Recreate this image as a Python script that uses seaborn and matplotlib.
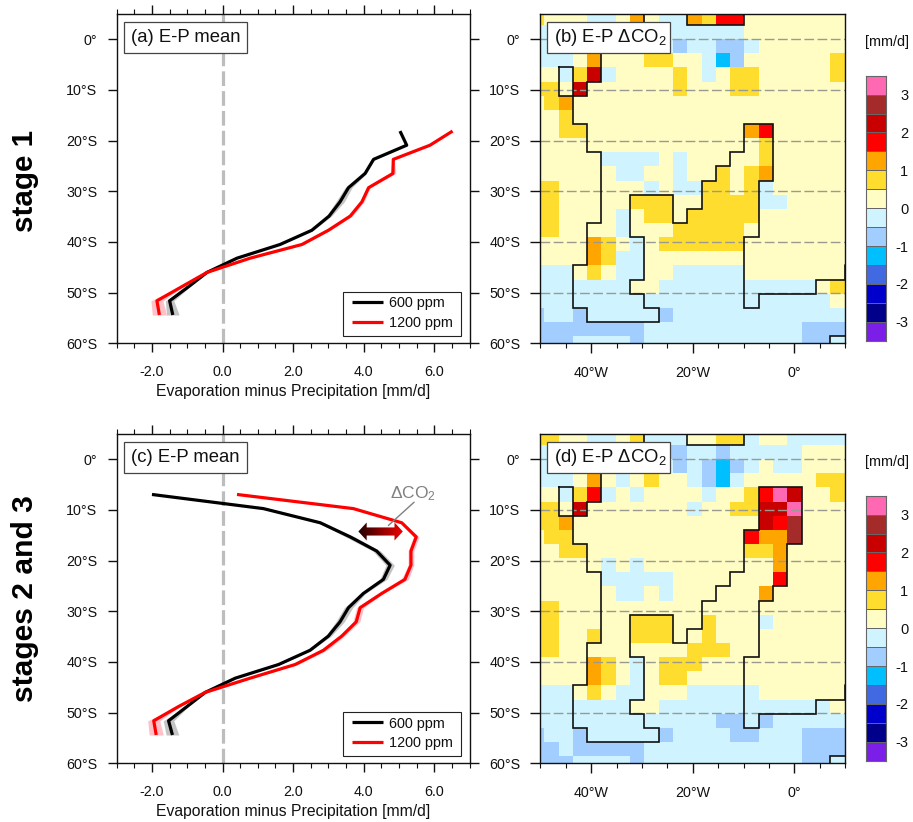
import numpy as np
import matplotlib
matplotlib.use('Agg')
import matplotlib.pyplot as plt
import seaborn as sns
from matplotlib.colors import ListedColormap, BoundaryNorm, LinearSegmentedColormap
from matplotlib.patches import Polygon, Rectangle

# ---- line panels ----
lat_a = [-18.14, -20.93, -23.72, -26.5, -29.3, -32.1, -34.9, -37.7, -40.5, -43.2, -46.0, -48.8, -51.6, -54.4]
black_a = [5.03, 5.22, 4.28, 4.04, 3.57, 3.33, 3.02, 2.53, 1.63, 0.41, -0.44, -0.96, -1.50, -1.41]
red_a = [6.52, 5.88, 4.84, 4.83, 4.14, 3.95, 3.62, 3.00, 2.25, 0.78, -0.44, -1.15, -1.86, -1.79]
spread_black_a = [0.0, 0.01, 0.03, 0.04, 0.10, 0.12, 0.07, 0.04, 0.03, 0.03, 0.02, 0.04, 0.12, 0.18]
spread_red_a = [0.0, 0.01, 0.03, 0.08, 0.05, 0.06, 0.06, 0.05, 0.06, 0.03, 0.02, 0.04, 0.17, 0.20]

lat_c = [-6.98, -9.77, -12.56, -15.35, -18.14, -20.93, -23.72, -26.5, -29.3, -32.1, -34.9, -37.7, -40.5, -43.2, -46.0, -48.8, -51.6, -54.4]
black_c = [-2.0, 1.16, 2.77, 3.62, 4.37, 4.75, 4.56, 3.99, 3.57, 3.33, 3.0, 2.48, 1.59, 0.36, -0.49, -1.01, -1.53, -1.42]
red_c = [0.41, 3.71, 5.08, 5.49, 5.34, 5.34, 5.17, 4.51, 3.90, 3.79, 3.38, 2.86, 2.06, 0.78, -0.49, -1.25, -1.95, -1.88]
spread_black_c = [0.0, 0.01, 0.06, 0.13, 0.11, 0.12, 0.10, 0.06, 0.12, 0.12, 0.08, 0.04, 0.04, 0.03, 0.02, 0.04, 0.15, 0.18]
spread_red_c = [0.0, 0.01, 0.04, 0.08, 0.08, 0.08, 0.10, 0.05, 0.10, 0.10, 0.08, 0.10, 0.08, 0.03, 0.03, 0.05, 0.17, 0.20]

series_names = ['600 ppm', '1200 ppm']
lat_ticks = [0, -10, -20, -30, -40, -50, -60]
lat_labels = ['0°', '10°S', '20°S', '30°S', '40°S', '50°S', '60°S']
ep_ticks = [-2, 0, 2, 4, 6]
ep_labels = ['-2.0', '0.0', '2.0', '4.0', '6.0']

# ---- map panels: one letter per grid cell, see cell_values ----
map_b = [
    'gyyyccyoyccogrryyyyyyyy',
    'cccccccccccccccyyyyyyyy',
    'ccccccccccbccbbcyyyyyyy',
    'cccyoyyyggyycsbyyyyyygg',
    'yycgdcyyyygycyggyyyyygg',
    'ggydyyyyyygyyyggyyyyyyy',
    'ygoyyyyyyyyyyyyyyyyyyyy',
    'yygyyyyyyyyyyyyyyyyyyyy',
    'yyggyyyyyyyyyyyoryyyyyy',
    'yyyyyyyyyyyyyyyygyyyyyy',
    'yyyyyccccycyyyyygyyyyyy',
    'yyyyyyccyycyygygoyyyyyy',
    'ggyyyyyycyccggygcyyyyyy',
    'ggyyyyygggyyggggccyyyyy',
    'ggyyyycyggygggggyyyyyyy',
    'ggyyyycyyygggggyyyyyyyy',
    'yyyyogycyggggggyyyyyyyy',
    'yyyyogccyyyyyyyyyyyyyyy',
    'cccygyccyyccccc' + 'yyyyyyyy',
    'cccccccyy' + 'c' * 11 + 'ygg',
    'c' * 21 + 'yy',
    'bccbcccccb' + 'c' * 13,
    'b' * 8 + 'c' * 11 + 'bbbb',
    'bbbccccbcccccccccccbbcc',
]
map_d = [
    'ggyyccygcccyyggcyyccccc',
    'cccccccccbbccbcccccyyyy',
    'ccccccccccbcbsbcyccyyyy',
    'cccyoycygyycbscyyyyyggg',
    'yycgrcycyyyycyygrpdyygg',
    'ggydyyyyyyycyyggddpyyyy',
    'ggoyyyyyyyyyyyyydrwyyyy',
    'yggyyyyyyyyyyyy' + 'roowyyyy',
    'yyggyyyyyyyyyyyggoyyyyy',
    'yyyyycycyyyyyyyyyoyyyyy',
    'yyyyyccccc' + 'yyyyyyy' + 'ryyyyy',
    'yyyyyyccycyyyyyyoyyyyyy',
    'gg' + 'y' * 21,
    'ggyyyyygggyygyyycyyyyyy',
    'ggyygyygggyyg' + 'y' * 10,
    'gg' + 'y' * 9 + 'ggg' + 'y' * 9,
    'yyyyogycygggyyyyyyyyyyy',
    'yyyyogycyggyyyyyyyyyyyy',
    'cccygyccyyyccccc' + 'yyyyyyy',
    'cccccccyy' + 'c' * 12 + 'yy',
    'c' * 13 + 'bbcb' + 'c' * 6,
    'bccbcccccbccccbbcccbbbb',
    'bbcbbbbb' + 'c' * 11 + 'bbbb',
    'bbbccccbcccccccccccbbcc',
]
cell_values = {'b': -0.75, 'c': -0.25, 's': -1.25, 'y': 0.25, 'g': 0.75, 'o': 1.25,
               'r': 1.75, 'd': 2.25, 'w': 2.75, 'p': 3.25}
level_bounds = [-3.5, -3, -2.5, -2, -1.5, -1, -0.5, 0, 0.5, 1, 1.5, 2, 2.5, 3, 3.5]
level_colors = ['#7B1FE8', '#00008B', '#0000CD', '#4169E1', '#00BFFF', '#A2CDFF', '#CFF4FF',
                '#FFFCC4', '#FFDD2F', '#FFA500', '#FF0000', '#C80000', '#A52A2A', '#FF69B4']
cbar_values = [3.25, 2.75, 2.25, 1.75, 1.25, 0.75, 0.25, -0.25, -0.75, -1.25, -1.75, -2.25, -2.75, -3.25]
cbar_labels = ['3', '2', '1', '0', '-1', '-2', '-3']

# land outline, as grid cell corners (column edge, row edge)
coast_west = [(8, 0), (8, 2), (5, 2), (5, 5), (4, 5), (4, 6), (3, 6), (3, 8), (4, 8), (4, 10), (5, 10),
              (5, 15), (4, 15), (4, 18), (3, 18), (3, 21), (4, 21), (4, 22), (9, 22), (9, 21), (8, 21),
              (8, 20), (7, 20), (7, 19), (8, 19), (8, 16), (7, 16), (7, 13), (10, 13), (10, 15), (11, 15),
              (11, 14), (12, 14), (12, 12), (13, 12), (13, 11), (14, 11), (14, 10), (15, 10)]
coast_east_b = [(15, 8), (17, 8), (17, 12)]
coast_east_d = [(15, 7), (16, 7), (16, 4), (19, 4), (19, 8), (18, 8), (18, 11), (17, 11), (17, 12)]
coast_south = [(16, 12), (16, 16), (15, 16), (15, 21), (16, 21), (16, 20), (20, 20), (20, 19),
               (22.06, 19), (22.06, 18)]
coast_top = [(11, 0), (11, 1), (15, 1), (15, 0)]
coast_island = [(2, 4), (3, 4), (3, 6), (2, 6), (2, 4)]
coast_corner = [(21, 23.5), (21, 23), (22.06, 23)]

lon_major = [-40, -20, 0]
lon_labels = ['40°W', '20°W', '0°']
lon_minor = [-50, -45, -35, -30, -25, -15, -10, -5, 5, 10]

sns.set_style('ticks')
plt.rcParams['font.family'] = ['Liberation Sans', 'DejaVu Sans']
plt.rcParams['mathtext.fontset'] = 'custom'
plt.rcParams['mathtext.rm'] = 'Liberation Sans'
plt.rcParams['mathtext.default'] = 'rm'
plt.rcParams['axes.linewidth'] = 1.0
plt.rcParams['text.color'] = '#111111'
plt.rcParams['axes.labelcolor'] = '#111111'
plt.rcParams['axes.edgecolor'] = '#111111'
plt.rcParams['xtick.color'] = '#111111'
plt.rcParams['ytick.color'] = '#111111'

W, H = 913, 822
fig = plt.figure(figsize=(W / 100, H / 100), dpi=100)


def add_axes(left, top, right, bottom):
    return fig.add_axes([left / W, 1 - bottom / H, (right - left) / W, (bottom - top) / H])


def px_to_axes(ax, x, y):
    # figure pixels to axes fractions
    box = ax.get_position()
    return (x / W - box.x0) / box.width, ((1 - y / H) - box.y0) / box.height


def px_box(ax, x0, y0, x1, y1, edge, lw, zorder):
    ax0, ay1 = px_to_axes(ax, x0, y1)
    ax1, ay0 = px_to_axes(ax, x1, y0)
    ax.add_patch(Rectangle((ax0, ay1), ax1 - ax0, ay0 - ay1, transform=ax.transAxes,
                           facecolor='white', edgecolor=edge, lw=lw, zorder=zorder))


def label_box(ax, text, x0, y0, x1, y1, tx):
    px_box(ax, x0, y0, x1, y1, '#444444', 0.9, 6)
    ax.text(*px_to_axes(ax, tx, (y0 + y1) / 2), text, transform=ax.transAxes, fontsize=13.3,
            va='center', ha='left', zorder=7)


def lon_col(lon):
    return (lon + 52.03125) / 2.8125


def lat_row(lat):
    return (5.58 - lat) / 2.79


def line_panel(top, lats, black, red, sp_black, sp_red, title):
    ax = add_axes(116.7, top, 469.5, top + 329.7)
    lats = np.array(lats)
    ax.axvline(0, color='#bdbdbd', lw=2.3, dashes=(4.6, 1.6), zorder=1)
    for vals, sp, pale, col, name in [(black, sp_black, '#c4c4c4', 'black', series_names[0]),
                                      (red, sp_red, '#ffc0c8', 'red', series_names[1])]:
        vals = np.array(vals)
        sp = np.array(sp)
        ax.fill_betweenx(lats, vals - sp, vals + sp, color=pale, lw=0, zorder=2)
        sns.lineplot(x=vals, y=lats, orient='y', sort=False, estimator=None, color=col, lw=2.3, label=name,
                     solid_capstyle='butt', ax=ax, zorder=3)
    ax.set_xlim(-3, 7)
    ax.set_ylim(-60, 5)
    ax.set_xticks(ep_ticks)
    ax.set_xticklabels(ep_labels)
    ax.set_xticks(np.arange(-3, 7.01, 0.5), minor=True)
    ax.set_yticks(lat_ticks)
    ax.set_yticklabels(lat_labels)
    ax.tick_params(axis='x', which='major', length=6.5, width=1, top=True, labelsize=10.3, pad=9)
    ax.tick_params(axis='x', which='minor', length=3.6, width=0.8, top=True)
    ax.tick_params(axis='y', which='major', length=6.5, width=1, right=True, labelsize=10.3, pad=7.5)
    ax.set_xlabel('Evaporation minus Precipitation [mm/d]', fontsize=11.3, labelpad=4)
    ax.set_ylabel('')
    for s in ax.spines.values():
        s.set_visible(True)
    px_box(ax, 343.3, top + 278, 460.7, top + 322.3, '#222222', 0.8, 5)
    leg = ax.legend(loc='lower right', bbox_to_anchor=px_to_axes(ax, 453, top + 316), borderaxespad=0,
                    frameon=False, fontsize=10.4, handlelength=2.1, handletextpad=0.45,
                    labelspacing=0.36, borderpad=0)
    leg.set_zorder(6)
    label_box(ax, title, 124.3, top + 8.3, 246.7, top + 39, 130.7)
    return ax


def map_panel(top, cells, east, title):
    ax = add_axes(540.3, top, 845.3, top + 329.7)
    grid = np.array([[cell_values[c] for c in row] for row in cells])
    sns.heatmap(grid, ax=ax, cmap=ListedColormap(level_colors), norm=BoundaryNorm(level_bounds, 14),
                cbar=False, xticklabels=False, yticklabels=False)
    ax.set_xlim(lon_col(-50), lon_col(10))
    ax.set_ylim(lat_row(-60), lat_row(5))
    for lat in lat_ticks[:-1]:
        ax.axhline(lat_row(lat), color='#9a9a90', lw=1.0, dashes=(7, 2.5), zorder=2)
    for path in [coast_west + east + coast_south, coast_top, coast_island, coast_corner]:
        xs, ys = zip(*path)
        ax.plot(xs, ys, color='#111111', lw=1.2, solid_joinstyle='miter', zorder=3)
    ax.set_xticks([lon_col(v) for v in lon_major])
    ax.set_xticklabels(lon_labels)
    ax.set_xticks([lon_col(v) for v in lon_minor], minor=True)
    ax.set_yticks([lat_row(v) for v in lat_ticks])
    ax.set_yticklabels(lat_labels, rotation=0)
    ax.tick_params(axis='x', which='major', length=7, width=1, bottom=True, labelsize=10.3, pad=9.5)
    ax.tick_params(axis='x', which='minor', length=3.6, width=0.8, bottom=True)
    ax.tick_params(axis='y', which='major', length=7, width=1, left=True, labelsize=10.3, pad=7.5)
    for s in ax.spines.values():
        s.set_visible(True)
        s.set_color('#111111')
    label_box(ax, title, 547.3, top + 8, 670, top + 39.5, 554)
    return ax


def colorbar_panel(top):
    ax = add_axes(866.3, top + 62, 886, top + 327)
    sns.heatmap(np.array(cbar_values).reshape(-1, 1), ax=ax, cmap=ListedColormap(level_colors),
                norm=BoundaryNorm(level_bounds, 14), cbar=False, xticklabels=False, yticklabels=False,
                linewidths=0.5, linecolor='#666666')
    ax.yaxis.tick_right()
    ax.set_yticks([1, 3, 5, 7, 9, 11, 13])
    ax.set_yticklabels(cbar_labels, rotation=0, ha='right')
    ax.tick_params(axis='y', length=0, labelsize=10.5, pad=16)
    for s in ax.spines.values():
        s.set_visible(True)
        s.set_color('#666666')
        s.set_linewidth(0.8)
    fig.text(886.7 / W, 1 - (top + 28) / H, '[mm/d]', fontsize=10.4, ha='center', va='center')


ax_a = line_panel(13.7, lat_a, black_a, red_a, spread_black_a, spread_red_a, '(a) E-P mean')
ax_c = line_panel(433.7, lat_c, black_c, red_c, spread_black_c, spread_red_c, '(c) E-P mean')
map_panel(13.7, map_b, coast_east_b, '(b) E-P ΔCO$_2$')
map_panel(433.7, map_d, coast_east_d, '(d) E-P ΔCO$_2$')
colorbar_panel(13.7)
colorbar_panel(433.7)

# CO2 arrow in panel c, dark to red
xa0, xa1, xh, ya, ys, yh = 3.85, 5.11, 0.236, -14.28, 0.8, 1.78
arrow = Polygon([(xa0, ya), (xa0 + xh, ya + yh), (xa0 + xh, ya + ys), (xa1 - xh, ya + ys), (xa1 - xh, ya + yh),
                 (xa1, ya), (xa1 - xh, ya - yh), (xa1 - xh, ya - ys), (xa0 + xh, ya - ys), (xa0 + xh, ya - yh)],
                closed=True, facecolor='none', edgecolor='none', transform=ax_c.transData)
ax_c.add_patch(arrow)
im = ax_c.imshow(np.linspace(0, 1, 64).reshape(1, -1), extent=(xa0, xa1, ya - yh, ya + yh), aspect='auto', zorder=4,
                 cmap=LinearSegmentedColormap.from_list('co2', ['#200000', '#F00000']))
im.set_clip_path(arrow)
ax_c.set_xlim(-3, 7)
ax_c.set_ylim(-60, 5)
ax_c.plot([5.43, 4.7], [-8.5, -13.1], color='#808080', lw=1.0, zorder=4)
ax_c.text(5.4, -6.8, 'ΔCO$_2$', color='#808080', fontsize=12.5, ha='center', va='center', zorder=4)

fig.text(25 / W, 1 - 180.7 / H, 'stage 1', rotation=90, fontsize=21.3, fontweight='bold', color='black', ha='center', va='center')
fig.text(25 / W, 1 - 598.5 / H, 'stages 2 and 3', rotation=90, fontsize=21.6, fontweight='bold', color='black', ha='center', va='center')

fig.savefig('out.png', dpi=100)
